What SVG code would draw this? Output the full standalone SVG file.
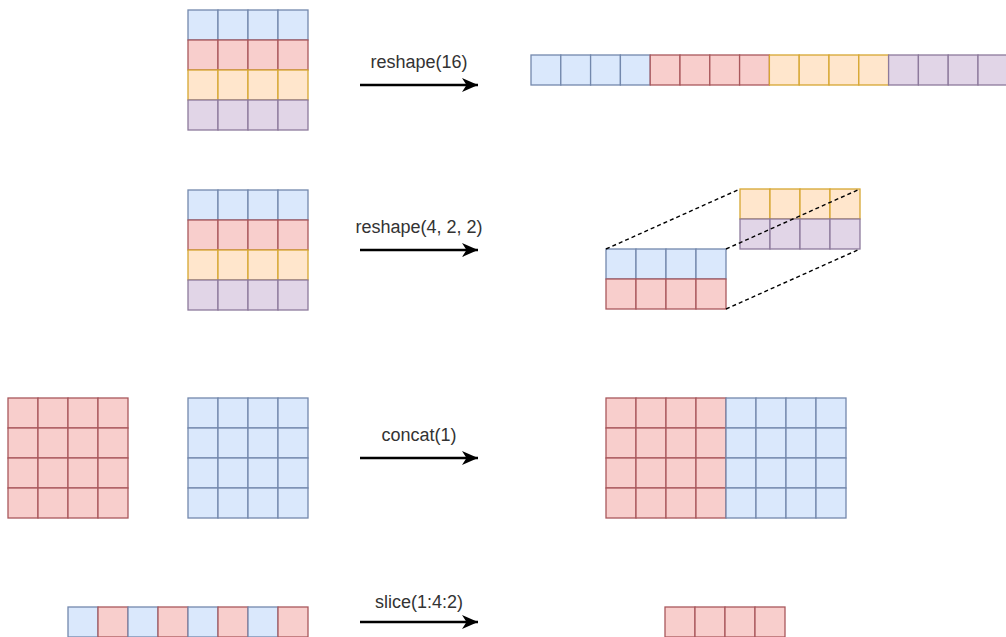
<svg xmlns="http://www.w3.org/2000/svg" width="1006" height="637" viewBox="0 0 1006 637">
<style>
.b{fill:#dae8fc;stroke:#7388ad;stroke-width:1.3}
.r{fill:#f8cecc;stroke:#a9585c;stroke-width:1.3}
.y{fill:#ffe6cc;stroke:#d6a732;stroke-width:1.3}
.p{fill:#e1d5e7;stroke:#8d7a9c;stroke-width:1.3}
.lbl{font-family:"Liberation Sans",Arial,sans-serif;font-size:18px;fill:#333;text-anchor:middle}
.arr{stroke:#000;stroke-width:2.6;fill:none}
.dash{stroke:#000;stroke-width:1.4;stroke-dasharray:4 3;fill:none}
</style>
<defs>
<marker id="ah" markerWidth="18" markerHeight="16" refX="16" refY="7" orient="auto" markerUnits="userSpaceOnUse">
<path d="M0,0 L16,7 L0,14 L4.5,7 Z" fill="#000"/>
</marker>
<g id="row4b"><rect class="b" x="0" y="0" width="30" height="30"/><rect class="b" x="30" y="0" width="30" height="30"/><rect class="b" x="60" y="0" width="30" height="30"/><rect class="b" x="90" y="0" width="30" height="30"/></g>
<g id="row4r"><rect class="r" x="0" y="0" width="30" height="30"/><rect class="r" x="30" y="0" width="30" height="30"/><rect class="r" x="60" y="0" width="30" height="30"/><rect class="r" x="90" y="0" width="30" height="30"/></g>
<g id="row4y"><rect class="y" x="0" y="0" width="30" height="30"/><rect class="y" x="30" y="0" width="30" height="30"/><rect class="y" x="60" y="0" width="30" height="30"/><rect class="y" x="90" y="0" width="30" height="30"/></g>
<g id="row4p"><rect class="p" x="0" y="0" width="30" height="30"/><rect class="p" x="30" y="0" width="30" height="30"/><rect class="p" x="60" y="0" width="30" height="30"/><rect class="p" x="90" y="0" width="30" height="30"/></g>
</defs>

<g id="tensor1">
<use href="#row4b" x="188" y="10"/><use href="#row4r" x="188" y="40"/><use href="#row4y" x="188" y="70"/><use href="#row4p" x="188" y="100"/>
</g>
<g id="flat16">
<rect class="b" x="531" y="55" width="29.8" height="30"/><rect class="b" x="560.8" y="55" width="29.8" height="30"/><rect class="b" x="590.6" y="55" width="29.8" height="30"/><rect class="b" x="620.4" y="55" width="29.8" height="30"/>
<rect class="r" x="650.2" y="55" width="29.8" height="30"/><rect class="r" x="680" y="55" width="29.8" height="30"/><rect class="r" x="709.8" y="55" width="29.8" height="30"/><rect class="r" x="739.6" y="55" width="29.8" height="30"/>
<rect class="y" x="769.4" y="55" width="29.8" height="30"/><rect class="y" x="799.2" y="55" width="29.8" height="30"/><rect class="y" x="829" y="55" width="29.8" height="30"/><rect class="y" x="858.8" y="55" width="29.8" height="30"/>
<rect class="p" x="888.6" y="55" width="29.8" height="30"/><rect class="p" x="918.4" y="55" width="29.8" height="30"/><rect class="p" x="948.2" y="55" width="29.8" height="30"/><rect class="p" x="978" y="55" width="29.8" height="30"/>
</g>

<g id="tensor2">
<use href="#row4b" x="188" y="190"/><use href="#row4r" x="188" y="220"/><use href="#row4y" x="188" y="250"/><use href="#row4p" x="188" y="280"/>
</g>
<g id="block-back">
<use href="#row4y" x="740" y="189"/><use href="#row4p" x="740" y="219"/>
</g>
<g id="block-front">
<use href="#row4b" x="606" y="249"/><use href="#row4r" x="606" y="279"/>
</g>

<g id="red-square">
<use href="#row4r" x="8" y="398"/><use href="#row4r" x="8" y="428"/><use href="#row4r" x="8" y="458"/><use href="#row4r" x="8" y="488"/>
</g>
<g id="blue-square">
<use href="#row4b" x="188" y="398"/><use href="#row4b" x="188" y="428"/><use href="#row4b" x="188" y="458"/><use href="#row4b" x="188" y="488"/>
</g>
<g id="concat-result">
<use href="#row4r" x="606" y="398"/><use href="#row4r" x="606" y="428"/><use href="#row4r" x="606" y="458"/><use href="#row4r" x="606" y="488"/>
<use href="#row4b" x="726" y="398"/><use href="#row4b" x="726" y="428"/><use href="#row4b" x="726" y="458"/><use href="#row4b" x="726" y="488"/>
</g>

<g id="alt-strip">
<rect class="b" x="68" y="607" width="30" height="30"/><rect class="r" x="98" y="607" width="30" height="30"/><rect class="b" x="128" y="607" width="30" height="30"/><rect class="r" x="158" y="607" width="30" height="30"/>
<rect class="b" x="188" y="607" width="30" height="30"/><rect class="r" x="218" y="607" width="30" height="30"/><rect class="b" x="248" y="607" width="30" height="30"/><rect class="r" x="278" y="607" width="30" height="30"/>
</g>
<g id="slice-result">
<use href="#row4r" x="665" y="607"/>
</g>

<g id="connectors">
<line class="arr" x1="360" y1="85" x2="478" y2="85" marker-end="url(#ah)"/>
<text class="lbl" x="419" y="68">reshape(16)</text>
<line class="arr" x1="360" y1="250" x2="478" y2="250" marker-end="url(#ah)"/>
<text class="lbl" x="419" y="233">reshape(4, 2, 2)</text>
<line class="arr" x1="360" y1="458" x2="478" y2="458" marker-end="url(#ah)"/>
<text class="lbl" x="419" y="441">concat(1)</text>
<line class="arr" x1="360" y1="622" x2="478" y2="622" marker-end="url(#ah)"/>
<text class="lbl" x="419" y="608">slice(1:4:2)</text>
<line class="dash" x1="606" y1="249" x2="740" y2="189"/>
<line class="dash" x1="726" y1="249" x2="860" y2="189"/>
<line class="dash" x1="726" y1="309" x2="860" y2="249"/>
</g>
</svg>
